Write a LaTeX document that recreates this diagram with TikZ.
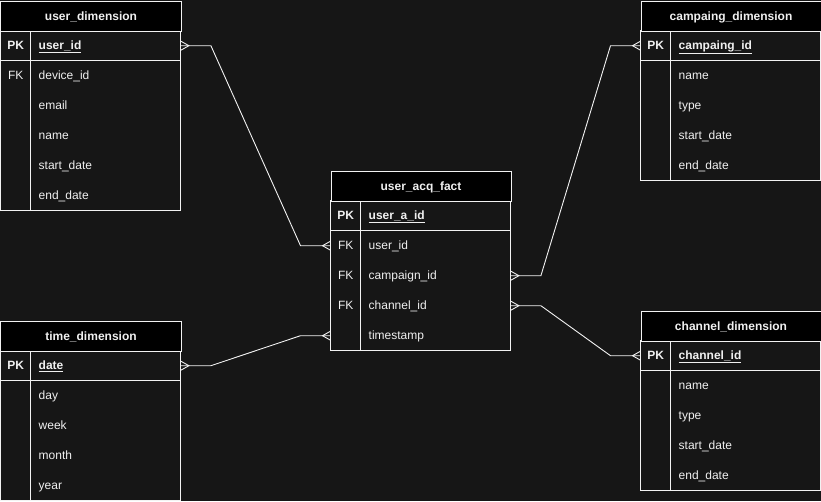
\documentclass[tikz,border=0pt]{standalone}
\usepackage{fontspec}
\setmainfont{Liberation Sans}
\usepackage{tikz}
\usetikzlibrary{positioning}
\definecolor{canvasbg}{HTML}{161616}
\definecolor{headblack}{HTML}{000000}
\definecolor{edgewhite}{HTML}{F2F2F2}
\definecolor{textwhite}{HTML}{F0F0F0}
\newcommand{\erfont}{\fontsize{12}{14}\selectfont}
\tikzset{tbltitle/.style={draw=edgewhite,line width=1pt,fill=headblack,text=textwhite,font=\erfont\bfseries,
minimum width=180pt,minimum height=30pt,inner sep=0pt,text height=10pt,text depth=2pt,anchor=north west},
keycell/.style={text=textwhite,minimum width=30pt,minimum height=30pt,inner sep=0pt,
text height=10pt,text depth=2pt,anchor=north west},
fieldcell/.style={text=textwhite,minimum height=30pt,text width=134pt,inner xsep=8pt,inner ysep=0pt,
text height=10pt,text depth=2pt,align=left,anchor=north west},
keybold/.style={font=\erfont\bfseries},
tblline/.style={edgewhite,line width=1pt},
erline/.style={edgewhite,line width=0.9pt},
many/.pic={\draw[erline] (0,-4.5) -- (8,0) -- (0,4.5);}}

\begin{document}
\begin{tikzpicture}[x=1pt,y=-1pt,font=\erfont]
\fill[canvasbg] (-0.5,-0.5) rectangle (820.5,500.5);
\useasboundingbox (-0.5,-0.5) rectangle (820.5,500.5);
% user_dimension
\begin{scope}[shift={(0,0)}]
\draw[tblline] (0,30) rectangle (180,210);
\draw[tblline] (0,60)--(180,60) (30,30)--(30,210);
\node[tbltitle] (ud) at (0,0) {user\_dimension};
\node[keycell,keybold] (ud-k0) at (0,30) {PK};
\node[fieldcell,keybold] (ud-pk) at (30,30) {\underline{user\_id}};
\foreach \k/\f [count=\i] in {FK/device\_id,{}/email,{}/name,{}/start\_date,{}/end\_date} {
\node[keycell] (ud-k\i) at (0,{30+30*\i}) {\k};
\node[fieldcell] (ud-\i) at (30,{30+30*\i}) {\f};}
\end{scope}
% campaing_dimension
\begin{scope}[shift={(640,0)}]
\draw[tblline] (0,30) rectangle (180,180);
\draw[tblline] (0,60)--(180,60) (30,30)--(30,180);
\node[tbltitle] (cd) at (0,0) {campaing\_dimension};
\node[keycell,keybold] (cd-k0) at (0,30) {PK};
\node[fieldcell,keybold] (cd-pk) at (30,30) {\underline{campaing\_id}};
\foreach \f [count=\i] in {name,type,start\_date,end\_date} {
\node[fieldcell] (cd-\i) at (30,{30+30*\i}) {\f};}
\end{scope}
% user_acq_fact
\begin{scope}[shift={(330,170)}]
\draw[tblline] (0,30) rectangle (180,180);
\draw[tblline] (0,60)--(180,60) (30,30)--(30,180);
\node[tbltitle] (fa) at (0,0) {user\_acq\_fact};
\node[keycell,keybold] (fa-k0) at (0,30) {PK};
\node[fieldcell,keybold] (fa-pk) at (30,30) {\underline{user\_a\_id}};
\foreach \k/\f [count=\i] in {FK/user\_id,FK/campaign\_id,FK/channel\_id,{}/timestamp} {
\node[keycell] (fa-k\i) at (0,{30+30*\i}) {\k};
\node[fieldcell] (fa-\i) at (30,{30+30*\i}) {\f};}
\end{scope}
% time_dimension
\begin{scope}[shift={(0,320)}]
\draw[tblline] (0,30) rectangle (180,180);
\draw[tblline] (0,60)--(180,60) (30,30)--(30,180);
\node[tbltitle] (td) at (0,0) {time\_dimension};
\node[keycell,keybold] (td-k0) at (0,30) {PK};
\node[fieldcell,keybold] (td-pk) at (30,30) {\underline{date}};
\foreach \f [count=\i] in {day,week,month,year} {
\node[fieldcell] (td-\i) at (30,{30+30*\i}) {\f};}
\end{scope}
% channel_dimension
\begin{scope}[shift={(640,310)}]
\draw[tblline] (0,30) rectangle (180,180);
\draw[tblline] (0,60)--(180,60) (30,30)--(30,180);
\node[tbltitle] (ch) at (0,0) {channel\_dimension};
\node[keycell,keybold] (ch-k0) at (0,30) {PK};
\node[fieldcell,keybold] (ch-pk) at (30,30) {\underline{channel\_id}};
\foreach \f [count=\i] in {name,type,start\_date,end\_date} {
\node[fieldcell] (ch-\i) at (30,{30+30*\i}) {\f};}
\end{scope}
% relations
\draw[erline] (ud-pk.east) -- ++(30,0) -- ([xshift=-30pt]fa-k1.west) -- (fa-k1.west);
\draw[erline] (fa-2.east) -- ++(30,0) -- ([xshift=-30pt]cd-k0.west) -- (cd-k0.west);
\draw[erline] (fa-3.east) -- ++(30,0) -- ([xshift=-30pt]ch-k0.west) -- (ch-k0.west);
\draw[erline] (td-pk.east) -- ++(30,0) -- ([xshift=-30pt]fa-k4.west) -- (fa-k4.west);
\foreach \p in {ud-pk.east,fa-2.east,fa-3.east,td-pk.east}
\pic at (\p) {many};
\foreach \p in {fa-k1.west,cd-k0.west,ch-k0.west,fa-k4.west}
\pic[rotate=180] at (\p) {many};
\end{tikzpicture}
\end{document}
